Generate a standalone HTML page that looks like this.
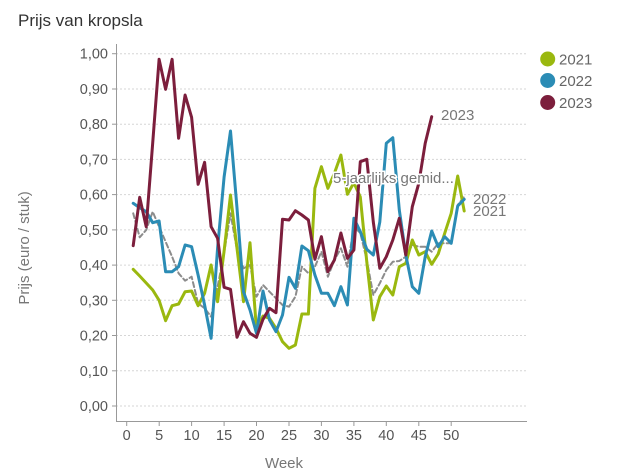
<!DOCTYPE html>
<html><head><meta charset="utf-8"><style>
html,body{margin:0;padding:0;background:#fff;}
svg{display:block;}
text{font-family:"Liberation Sans",sans-serif;}
</style></head><body>
<svg width="626" height="475" viewBox="0 0 626 475" xmlns="http://www.w3.org/2000/svg">
<text x="18" y="26" font-size="17" fill="#333">Prijs van kropsla</text>
<g stroke="#d6d6d6" stroke-width="1" stroke-dasharray="2,2">
<line x1="116" y1="53.7" x2="527" y2="53.7"/>
<line x1="116" y1="89" x2="527" y2="89"/>
<line x1="116" y1="124.2" x2="527" y2="124.2"/>
<line x1="116" y1="159.4" x2="527" y2="159.4"/>
<line x1="116" y1="194.6" x2="527" y2="194.6"/>
<line x1="116" y1="229.9" x2="527" y2="229.9"/>
<line x1="116" y1="265.1" x2="527" y2="265.1"/>
<line x1="116" y1="300.3" x2="527" y2="300.3"/>
<line x1="116" y1="335.5" x2="527" y2="335.5"/>
<line x1="116" y1="370.8" x2="527" y2="370.8"/>
<line x1="116" y1="406" x2="527" y2="406"/>
</g>
<g stroke="#999" stroke-width="1">
<line x1="116.5" y1="44" x2="116.5" y2="422"/>
<line x1="116" y1="421.5" x2="527" y2="421.5"/>
<line x1="112" y1="53.7" x2="116" y2="53.7"/><line x1="112" y1="89" x2="116" y2="89"/><line x1="112" y1="124.2" x2="116" y2="124.2"/><line x1="112" y1="159.4" x2="116" y2="159.4"/><line x1="112" y1="194.6" x2="116" y2="194.6"/><line x1="112" y1="229.9" x2="116" y2="229.9"/><line x1="112" y1="265.1" x2="116" y2="265.1"/><line x1="112" y1="300.3" x2="116" y2="300.3"/><line x1="112" y1="335.5" x2="116" y2="335.5"/><line x1="112" y1="370.8" x2="116" y2="370.8"/><line x1="112" y1="406" x2="116" y2="406"/>
<line x1="126.7" y1="422" x2="126.7" y2="426"/><line x1="159.2" y1="422" x2="159.2" y2="426"/><line x1="191.6" y1="422" x2="191.6" y2="426"/><line x1="224.1" y1="422" x2="224.1" y2="426"/><line x1="256.5" y1="422" x2="256.5" y2="426"/><line x1="289" y1="422" x2="289" y2="426"/><line x1="321.4" y1="422" x2="321.4" y2="426"/><line x1="353.9" y1="422" x2="353.9" y2="426"/><line x1="386.3" y1="422" x2="386.3" y2="426"/><line x1="418.8" y1="422" x2="418.8" y2="426"/><line x1="451.2" y1="422" x2="451.2" y2="426"/>
</g>
<g font-size="14.5" fill="#555" text-anchor="end">
<text x="108" y="58.7">1,00</text><text x="108" y="94">0,90</text><text x="108" y="129.2">0,80</text><text x="108" y="164.4">0,70</text><text x="108" y="199.6">0,60</text><text x="108" y="234.9">0,50</text><text x="108" y="270.1">0,40</text><text x="108" y="305.3">0,30</text><text x="108" y="340.5">0,20</text><text x="108" y="375.8">0,10</text><text x="108" y="411">0,00</text>
</g>
<g font-size="14.5" fill="#555" text-anchor="middle">
<text x="126.7" y="440">0</text><text x="159.2" y="440">5</text><text x="191.6" y="440">10</text><text x="224.1" y="440">15</text><text x="256.5" y="440">20</text><text x="289" y="440">25</text><text x="321.4" y="440">30</text><text x="353.9" y="440">35</text><text x="386.3" y="440">40</text><text x="418.8" y="440">45</text><text x="451.2" y="440">50</text>
</g>
<text x="284" y="468" font-size="15" fill="#777" text-anchor="middle">Week</text>
<text transform="translate(29,248) rotate(-90)" font-size="15" fill="#777" text-anchor="middle">Prijs (euro / stuk)</text>

<g fill="none" stroke-linejoin="round" stroke-linecap="round">
<polyline stroke="#8c8c8c" stroke-width="2" stroke-dasharray="5,3" points="133.2,213.3 139.7,237.3 146.2,230 152.7,211.7 159.1,226.7 165.6,241.7 172.1,256.7 178.6,273.3 185.1,280.7 191.6,276.7 198.1,303.3 204.6,308.3 211.1,316.7 217.6,286.7 224.1,253 230.5,213.3 237,250 243.5,268.3 250,265 256.5,296.7 263,285 269.5,291.7 276,298.3 282.5,305 289,306.7 295.4,296.7 301.9,266.7 308.4,273.3 314.9,266.7 321.4,251.7 327.9,276.7 334.4,260 340.9,248.3 347.4,266.7 353.9,226.7 360.3,233 366.8,260 373.3,295 379.8,283.3 386.3,270 392.8,261.7 399.3,261 405.8,256.7 412.3,245 418.8,246.7 425.2,246.7 431.7,251.7 438.2,243.3 444.7,243.3 451.2,243.3 457.7,205 464.2,196.7"/>
<polyline stroke="#9ab80f" stroke-width="3" points="133.2,269.3 139.7,276 146.2,283 152.7,290 159.1,300.3 165.6,320.7 172.1,305.7 178.6,304 185.1,291.7 191.6,291 198.1,305.7 204.6,293.3 211.1,265 217.6,301.7 224.1,251 230.5,195 237,248.3 243.5,301.7 250,242.7 256.5,330 263,316 269.5,318.3 276,328.3 282.5,341.7 289,348.3 295.4,345 301.9,314 308.4,314 314.9,188.3 321.4,166.7 327.9,188.3 334.4,173.3 340.9,155 347.4,194.3 353.9,182.7 360.3,197 366.8,262 373.3,320 379.8,296.7 386.3,286 392.8,295 399.3,266.7 405.8,263.3 412.3,240 418.8,255 425.2,251.7 431.7,264.3 438.2,254 444.7,233.3 451.2,213.3 457.7,176 464.2,211"/>
<polyline stroke="#2b8cb5" stroke-width="3" points="133.2,203.3 139.7,207.7 146.2,211.7 152.7,222.7 159.1,221 165.6,271.7 172.1,271.7 178.6,266.7 185.1,245 191.6,246.7 198.1,275 204.6,305 211.1,338.3 217.6,248 224.1,177 230.5,131 237,208 243.5,291.7 250,310 256.5,333.3 263,291 269.5,320 276,331.7 282.5,315 289,277.3 295.4,288.3 301.9,246 308.4,250.7 314.9,275 321.4,293.3 327.9,293.3 334.4,305.7 340.9,286.7 347.4,305 353.9,218.3 360.3,231.7 366.8,249.3 373.3,255 379.8,222 386.3,143.3 392.8,137.7 399.3,210 405.8,255 412.3,286.7 418.8,293.3 425.2,256.7 431.7,231 438.2,246.7 444.7,236.7 451.2,243.3 457.7,206 464.2,199.3"/>
<polyline stroke="#7c1e3c" stroke-width="3" points="133.2,245.7 139.7,197.3 146.2,226.7 152.7,143 159.1,59.3 165.6,89.3 172.1,59.3 178.6,138.3 185.1,95 191.6,117.3 198.1,184.3 204.6,162.3 211.1,226.7 217.6,238.3 224.1,287.3 230.5,289.3 237,337.3 243.5,321.7 250,333.3 256.5,337.3 263,319.3 269.5,308.3 276,312.7 282.5,219.3 289,220 295.4,210.7 301.9,215 308.4,220 314.9,259.3 321.4,236.7 327.9,271.7 334.4,260 340.9,233 347.4,258.3 353.9,250 360.3,161.7 366.8,159.3 373.3,222 379.8,268.3 386.3,256.7 392.8,240 399.3,218.3 405.8,255 412.3,206.7 418.8,183.3 425.2,143.3 431.7,116.7"/>
</g>
<g font-size="15" fill="#777">
<text x="441" y="120">2023</text>
<text x="473" y="204">2022</text>
<text x="473" y="216">2021</text>
</g>
<text x="333" y="183" font-size="15" fill="#777" stroke="#fff" stroke-width="3" paint-order="stroke">5-jaarlijks gemid...</text>

<circle cx="547.7" cy="59" r="7.5" fill="#9ab80f"/>
<circle cx="547.7" cy="80.5" r="7.5" fill="#2b8cb5"/>
<circle cx="547.7" cy="102.5" r="7.5" fill="#7c1e3c"/>
<g font-size="15" fill="#666">
<text x="559" y="64.5">2021</text>
<text x="559" y="86">2022</text>
<text x="559" y="108">2023</text>
</g>
</svg>
</body></html>
